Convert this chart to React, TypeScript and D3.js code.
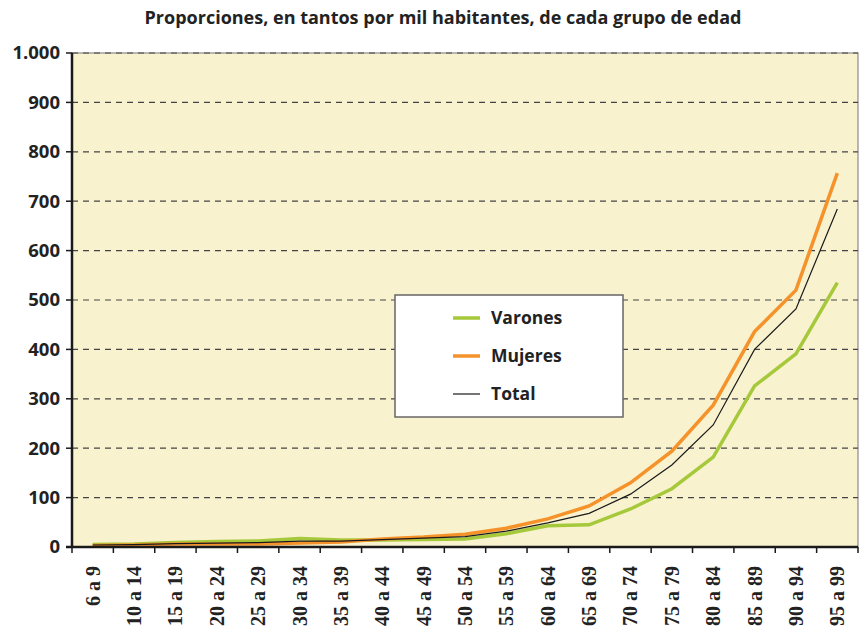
import React from 'react'
import * as d3 from 'd3'

const grupos = ['6 a 9', '10 a 14', '15 a 19', '20 a 24', '25 a 29', '30 a 34', '35 a 39', '40 a 44', '45 a 49', '50 a 54',
  '55 a 59', '60 a 64', '65 a 69', '70 a 74', '75 a 79', '80 a 84', '85 a 89', '90 a 94', '95 a 99']
const varones = [5, 6, 9, 11, 12, 17, 14, 14, 15, 16, 27, 43, 45, 77, 118, 182, 326, 391, 535]
const mujeres = [3, 4, 6, 6, 6, 8, 10, 16, 20, 26, 38, 57, 83, 130, 194, 287, 436, 520, 757]
const total = [4, 5, 7, 8, 9, 12, 12, 15, 18, 21, 32, 49, 68, 107, 166, 247, 400, 482, 684]
const yTicks = [0, 100, 200, 300, 400, 500, 600, 700, 800, 900, 1000]
const series = [
  { name: 'Varones', values: varones, color: '#A6C93B', width: 3.5 },
  { name: 'Mujeres', values: mujeres, color: '#F5922A', width: 3.5 },
  { name: 'Total', values: total, color: '#1a1a1a', width: 1.2 },
]

const W = 865
const H = 641
const left = 72
const right = 858
const top = 53
const bottom = 547

export default function App() {
  const x = d3.scaleBand().domain(grupos).range([left, right])
  const y = d3.scaleLinear().domain([0, 1000]).range([bottom, top])
  const line = d3.line<number>()
    .x((_, i) => (x(grupos[i]) as number) + x.bandwidth() / 2)
    .y((d) => y(d))
  const fmt = (v: number) => (v >= 1000 ? d3.format(',')(v).replace(',', '.') : String(v))

  return (
    <svg width={W} height={H} style={{ position: 'absolute', left: 0, top: 0 }}>
      <text x={443} y={24} textAnchor="middle" fontFamily="'Open Sans', sans-serif" fontWeight="bold" fontSize={18} fill="#222">
        Proporciones, en tantos por mil habitantes, de cada grupo de edad
      </text>
      <rect x={left} y={top} width={right - left} height={bottom - top} fill="#F8F2CF" stroke="#777" strokeWidth={1} />
      {yTicks.slice(1).map((t) => (
        <line key={t} x1={left} x2={right} y1={y(t)} y2={y(t)} stroke="#444" strokeWidth={1.2} strokeDasharray="6,5" />
      ))}
      {series.map((s) => (
        <path key={s.name} d={line(s.values) || ''} fill="none" stroke={s.color} strokeWidth={s.width} strokeLinejoin="miter" />
      ))}
      <line x1={left} x2={left} y1={top} y2={bottom} stroke="#1a1a1a" strokeWidth={2.5} />
      <line x1={left - 6} x2={right} y1={bottom} y2={bottom} stroke="#1a1a1a" strokeWidth={2.5} />
      {yTicks.map((t) => (
        <g key={t}>
          <line x1={left - 6} x2={left} y1={y(t)} y2={y(t)} stroke="#1a1a1a" strokeWidth={1.5} />
          <text x={left - 12} y={y(t)} dy="0.35em" textAnchor="end" fontFamily="'Open Sans', sans-serif" fontWeight="bold" fontSize={18.5} fill="#222">
            {fmt(t)}
          </text>
        </g>
      ))}
      {grupos.map((g) => (
        <g key={g}>
          <line x1={x(g) as number} x2={x(g) as number} y1={bottom} y2={bottom + 6} stroke="#1a1a1a" strokeWidth={1.5} />
          <text transform={`translate(${(x(g) as number) + x.bandwidth() / 2 + 7},${bottom + 19}) rotate(-90)`} textAnchor="end"
            fontFamily="'Liberation Serif', serif" fontWeight="bold" fontSize={20} fill="#222">
            {g}
          </text>
        </g>
      ))}
      <line x1={right} x2={right} y1={bottom} y2={bottom + 6} stroke="#1a1a1a" strokeWidth={1.5} />
      <g>
        <rect x={395} y={295} width={228} height={122} fill="#fff" stroke="#666" strokeWidth={1.5} />
        {series.map((s, i) => (
          <g key={s.name}>
            <line x1={453} x2={480} y1={318 + i * 38} y2={318 + i * 38} stroke={s.color} strokeWidth={s.width} />
            <text x={491} y={318 + i * 38} dy="0.35em" fontFamily="'Open Sans', sans-serif" fontWeight="bold" fontSize={17.5} fill="#222">
              {s.name}
            </text>
          </g>
        ))}
      </g>
    </svg>
  )
}
